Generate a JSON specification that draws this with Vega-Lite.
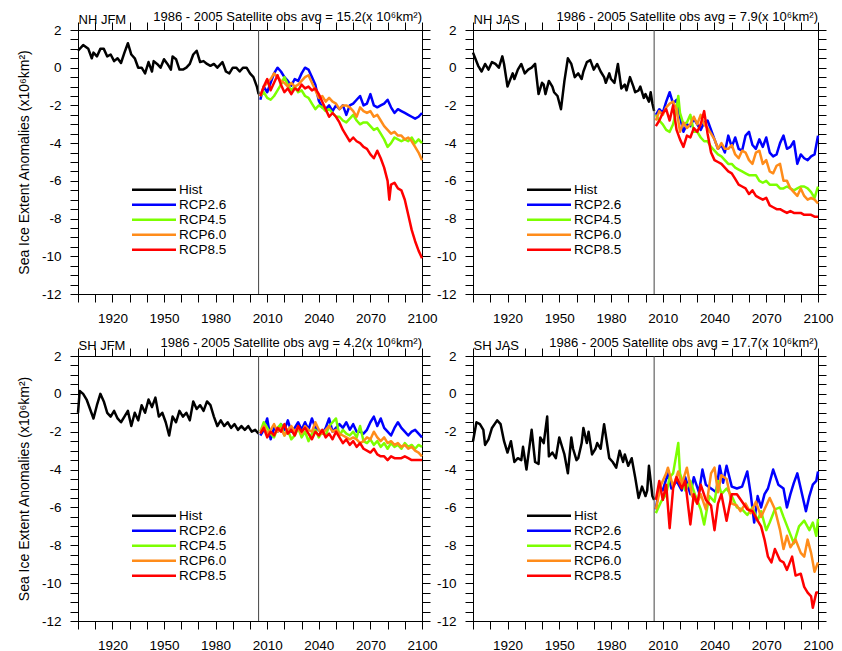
{
"$schema": "https://vega.github.io/schema/vega-lite/v6.json",
"background": "white",
"padding": {"left": 16, "top": 10, "right": 0, "bottom": 0},
"bounds": "flush",
"columns": 2,
"spacing": {"row": 62, "column": 51},
"resolve": {"scale": {"color": "independent"}, "legend": {"color": "independent"}},
"config": {
  "font": "Liberation Sans",
  "view": {"stroke": "black", "strokeWidth": 1, "fill": null},
  "axis": {"domain": true, "ticks": true, "domainColor": "black", "tickColor": "black", "domainWidth": 1, "tickWidth": 1, "domainOpacity": 1, "tickOpacity": 1, "labelColor": "black", "titleColor": "black", "labelFont": "Liberation Sans", "titleFont": "Liberation Sans", "labelFontSize": 13.5, "titleFontSize": 14, "titleFontWeight": "normal", "grid": false},
  "title": {"font": "Liberation Sans", "fontSize": 13, "fontWeight": "normal", "color": "black"},
  "legend": {"labelFont": "Liberation Sans", "labelColor": "black"},
  "line": {"strokeWidth": 2.5, "strokeJoin": "round"}
},
"datasets": {
"a": [
{"t":1900,"H":0.9},{"t":1903,"H":1.2},{"t":1906,"H":1.0},{"t":1908,"H":0.5},{"t":1909,"H":0.8},{"t":1911,"H":0.6},{"t":1913,"H":1.0},{"t":1915,"H":1.0},{"t":1917,"H":0.6},{"t":1919,"H":0.7},{"t":1921,"H":0.35},{"t":1923,"H":0.5},{"t":1925,"H":0.25},{"t":1927,"H":0.8},{"t":1929,"H":1.3},{"t":1931,"H":0.7},{"t":1933,"H":0.5},{"t":1935,"H":0.0},{"t":1937,"H":0.0},{"t":1939,"H":-0.3},{"t":1941,"H":0.3},{"t":1943,"H":-0.2},{"t":1944,"H":0.35},{"t":1946,"H":0.2},{"t":1948,"H":0.0},{"t":1950,"H":0.45},{"t":1952,"H":0.2},{"t":1954,"H":-0.1},{"t":1955,"H":0.6},{"t":1957,"H":0.45},{"t":1959,"H":-0.1},{"t":1961,"H":-0.1},{"t":1963,"H":0.0},{"t":1965,"H":0.2},{"t":1967,"H":0.7},{"t":1969,"H":0.9},{"t":1971,"H":0.3},{"t":1973,"H":0.35},{"t":1975,"H":0.2},{"t":1977,"H":0.1},{"t":1979,"H":0.2},{"t":1981,"H":0.0},{"t":1984,"H":0.3},{"t":1986,"H":-0.2},{"t":1988,"H":-0.3},{"t":1990,"H":0.0},{"t":1992,"H":0.0},{"t":1994,"H":-0.2},{"t":1996,"H":0.0},{"t":1998,"H":0.0},{"t":2000,"H":-0.3},{"t":2002,"H":-0.5},{"t":2004,"H":-1.0},{"t":2005,"H":-1.4},
{"t":2006,"B":-1.7,"G":-1.5,"O":-1.5,"R":-1.5},{"t":2008,"B":-1.0,"G":-1.3,"O":-1.0,"R":-1.0},{"t":2010,"B":-1.3,"G":-1.6,"O":-0.8,"R":-0.6},{"t":2012,"B":-0.8,"G":-1.7,"O":-0.6,"R":-1.2},{"t":2014,"B":-0.3,"G":-1.5,"O":-0.3,"R":-0.8},{"t":2016,"B":0.0,"G":-1.2,"O":-0.5,"R":-0.4},{"t":2018,"B":-0.2,"G":-0.9,"O":-0.7,"R":-0.9},{"t":2020,"B":-0.5,"G":-0.5,"O":-0.8,"R":-1.3},{"t":2022,"B":-0.7,"G":-0.9,"O":-1.0,"R":-1.1},{"t":2024,"B":-0.95,"G":-1.2,"O":-0.8,"R":-1.4},{"t":2026,"B":-0.6,"G":-1.0,"O":-1.0,"R":-1.1},{"t":2028,"B":-0.7,"G":-1.3,"O":-0.9,"R":-1.2},{"t":2030,"B":-0.3,"G":-1.2,"O":-0.7,"R":-0.9},{"t":2032,"B":0.0,"G":-1.5,"O":-0.5,"R":-1.1},{"t":2034,"B":-0.1,"G":-1.6,"O":-0.4,"R":-1.0},{"t":2036,"B":-0.5,"G":-1.9,"O":-0.8,"R":-1.2},{"t":2038,"B":-0.9,"G":-2.2,"O":-1.2,"R":-1.1},{"t":2040,"B":-1.75,"G":-2.0,"O":-1.6,"R":-1.4},{"t":2042,"B":-2.1,"G":-2.1,"O":-1.5,"R":-1.8},{"t":2044,"B":-2.2,"G":-2.3,"O":-1.8,"R":-2.2},{"t":2046,"B":-2.0,"G":-2.2,"O":-1.6,"R":-2.6},{"t":2048,"B":-2.3,"G":-2.4,"O":-1.8,"R":-2.4},{"t":2050,"B":-2.0,"G":-2.6,"O":-1.9,"R":-2.6},{"t":2052,"B":-2.2,"G":-2.6,"O":-2.2,"R":-2.9},{"t":2054,"B":-2.0,"G":-2.8,"O":-2.0,"R":-3.3},{"t":2056,"B":-2.5,"G":-2.9,"O":-2.0,"R":-3.6},{"t":2058,"B":-2.0,"G":-2.7,"O":-2.1,"R":-3.9},{"t":2060,"B":-1.9,"G":-2.5,"O":-2.3,"R":-3.7},{"t":2062,"B":-1.7,"G":-2.8,"O":-2.6,"R":-3.9},{"t":2064,"B":-1.5,"G":-3.0,"O":-2.1,"R":-4.0},{"t":2066,"B":-2.0,"G":-2.9,"O":-2.3,"R":-4.2},{"t":2068,"B":-1.9,"G":-2.9,"O":-2.4,"R":-4.3},{"t":2070,"B":-1.4,"G":-3.1,"O":-2.3,"R":-4.6},{"t":2072,"B":-2.0,"G":-3.3,"O":-2.6,"R":-4.8},{"t":2074,"B":-2.1,"G":-3.2,"O":-2.5,"R":-4.4},{"t":2076,"B":-2.0,"G":-3.5,"O":-2.8,"R":-4.8},{"t":2078,"B":-1.9,"G":-3.8,"O":-3.1,"R":-5.3},{"t":2080,"B":-1.7,"G":-4.2,"O":-3.3,"R":-6.0},{"t":2081,"R":-7.0},{"t":2082,"B":-2.1,"G":-4.0,"O":-3.5,"R":-6.2},{"t":2084,"B":-2.4,"G":-3.7,"O":-3.4,"R":-6.1},{"t":2086,"B":-2.2,"G":-3.8,"O":-3.6,"R":-6.4},{"t":2088,"B":-2.3,"G":-3.9,"O":-3.6,"R":-6.5},{"t":2090,"B":-2.4,"G":-3.8,"O":-3.8,"R":-7.0},{"t":2092,"B":-2.5,"G":-3.9,"O":-3.7,"R":-7.8},{"t":2094,"B":-2.6,"G":-3.7,"O":-3.9,"R":-8.6},{"t":2096,"B":-2.7,"G":-4.0,"O":-4.2,"R":-9.2},{"t":2098,"B":-2.6,"G":-3.8,"O":-4.5,"R":-9.7},{"t":2100,"B":-2.4,"G":-4.0,"O":-4.9,"R":-10.1}
],
"b": [
{"t":1900,"H":0.8},{"t":1903,"H":0.1},{"t":1905,"H":-0.2},{"t":1907,"H":0.2},{"t":1909,"H":-0.1},{"t":1911,"H":0.3},{"t":1913,"H":0.2},{"t":1915,"H":0.0},{"t":1917,"H":0.6},{"t":1918,"H":0.2},{"t":1920,"H":-1.0},{"t":1923,"H":-0.3},{"t":1924,"H":-0.6},{"t":1926,"H":-0.1},{"t":1928,"H":0.2},{"t":1930,"H":-0.3},{"t":1932,"H":-0.1},{"t":1934,"H":0.0},{"t":1936,"H":0.2},{"t":1938,"H":-1.4},{"t":1940,"H":-0.8},{"t":1941,"H":-0.9},{"t":1942,"H":-1.4},{"t":1944,"H":-0.7},{"t":1946,"H":-1.0},{"t":1947,"H":-1.3},{"t":1949,"H":-1.5},{"t":1951,"H":-2.2},{"t":1953,"H":-0.7},{"t":1955,"H":0.5},{"t":1957,"H":0.2},{"t":1959,"H":-0.5},{"t":1961,"H":-0.3},{"t":1963,"H":-0.6},{"t":1964,"H":-0.2},{"t":1966,"H":0.3},{"t":1968,"H":0.4},{"t":1970,"H":-0.1},{"t":1972,"H":0.2},{"t":1974,"H":-0.2},{"t":1976,"H":-0.5},{"t":1977,"H":-0.8},{"t":1979,"H":-0.3},{"t":1980,"H":-0.6},{"t":1982,"H":-0.8},{"t":1984,"H":0.2},{"t":1986,"H":-1.1},{"t":1988,"H":-0.9},{"t":1989,"H":-1.2},{"t":1991,"H":-0.5},{"t":1993,"H":-1.0},{"t":1994,"H":-1.3},{"t":1996,"H":-1.2},{"t":1997,"H":-1.0},{"t":1999,"H":-1.6},{"t":2000,"H":-1.4},{"t":2002,"H":-1.8},{"t":2003,"H":-1.3},{"t":2004,"H":-1.9},{"t":2005,"H":-2.3},
{"t":2006,"B":-2.5,"G":-2.5,"O":-2.8,"R":-3.1},{"t":2008,"B":-2.2,"G":-2.8,"O":-2.3,"R":-2.8},{"t":2010,"B":-2.4,"G":-3.0,"O":-2.5,"R":-2.4},{"t":2012,"B":-1.8,"G":-3.3,"O":-2.1,"R":-2.2},{"t":2014,"B":-1.3,"G":-3.4,"O":-1.9,"R":-2.8},{"t":2016,"B":-1.9,"G":-3.0,"O":-1.8,"R":-2.0},{"t":2018,"B":-1.7,"G":-2.2,"O":-2.2,"R":-3.3},{"t":2019,"G":-1.5},{"t":2020,"B":-2.6,"G":-2.4,"O":-3.4,"R":-3.8},{"t":2022,"B":-3.4,"G":-3.0,"O":-2.9,"R":-4.2},{"t":2024,"B":-3.0,"G":-2.9,"O":-3.2,"R":-3.6},{"t":2026,"B":-3.1,"G":-2.5,"O":-3.0,"R":-3.7},{"t":2028,"B":-2.7,"G":-3.4,"O":-2.6,"R":-3.2},{"t":2030,"B":-3.0,"G":-3.4,"O":-3.0,"R":-3.4},{"t":2032,"B":-3.3,"G":-3.7,"O":-2.5,"R":-3.0},{"t":2034,"B":-2.9,"G":-3.9,"O":-3.0,"R":-2.3},{"t":2036,"B":-2.8,"G":-3.9,"O":-3.2,"R":-3.5},{"t":2038,"B":-3.3,"G":-4.2,"O":-3.5,"R":-4.5},{"t":2040,"B":-3.8,"G":-4.4,"O":-3.8,"R":-4.9},{"t":2042,"B":-4.3,"G":-4.6,"O":-4.3,"R":-5.0},{"t":2044,"B":-4.1,"G":-4.7,"O":-4.0,"R":-5.1},{"t":2046,"B":-4.5,"G":-4.9,"O":-4.3,"R":-5.3},{"t":2048,"B":-3.6,"G":-5.1,"O":-4.3,"R":-5.5},{"t":2050,"B":-4.2,"G":-5.1,"O":-4.1,"R":-5.6},{"t":2052,"B":-3.7,"G":-5.3,"O":-4.6,"R":-5.9},{"t":2054,"B":-4.3,"G":-5.4,"O":-4.8,"R":-6.2},{"t":2056,"B":-4.4,"G":-5.5,"O":-4.4,"R":-6.3},{"t":2058,"B":-3.6,"G":-5.6,"O":-4.5,"R":-6.4},{"t":2060,"B":-3.4,"G":-5.7,"O":-4.9,"R":-6.7},{"t":2062,"B":-4.1,"G":-5.7,"O":-5.1,"R":-6.5},{"t":2064,"B":-4.3,"G":-5.7,"O":-4.5,"R":-6.8},{"t":2066,"B":-3.8,"G":-6.0,"O":-4.4,"R":-6.9},{"t":2068,"B":-4.2,"G":-6.1,"O":-5.1,"R":-7.0},{"t":2070,"B":-3.7,"G":-6.0,"O":-4.9,"R":-6.9},{"t":2072,"B":-4.5,"G":-6.2,"O":-5.5,"R":-7.3},{"t":2074,"B":-4.7,"G":-6.2,"O":-5.6,"R":-7.4},{"t":2076,"B":-4.6,"G":-6.2,"O":-5.2,"R":-7.5},{"t":2078,"B":-4.0,"G":-6.4,"O":-5.1,"R":-7.5},{"t":2080,"B":-3.6,"G":-6.4,"O":-6.0,"R":-7.6},{"t":2082,"B":-4.3,"G":-6.3,"O":-6.0,"R":-7.7},{"t":2084,"B":-4.2,"G":-6.4,"O":-6.4,"R":-7.6},{"t":2086,"B":-3.9,"G":-6.5,"O":-6.6,"R":-7.7},{"t":2088,"B":-5.1,"G":-6.4,"O":-6.8,"R":-7.7},{"t":2090,"B":-4.6,"G":-6.3,"O":-6.4,"R":-7.7},{"t":2092,"B":-4.8,"G":-6.3,"O":-6.8,"R":-7.8},{"t":2094,"B":-4.9,"G":-6.4,"O":-7.0,"R":-7.8},{"t":2096,"B":-4.7,"G":-6.6,"O":-6.9,"R":-7.8},{"t":2098,"B":-4.6,"G":-6.9,"O":-7.0,"R":-7.9},{"t":2100,"B":-3.6,"G":-6.3,"O":-7.2,"R":-7.9}
],
"c": [
{"t":1900,"H":-1.0},{"t":1901,"H":0.15},{"t":1903,"H":0.0},{"t":1905,"H":-0.3},{"t":1907,"H":-0.8},{"t":1909,"H":-1.3},{"t":1911,"H":-0.6},{"t":1913,"H":0.0},{"t":1915,"H":-0.4},{"t":1917,"H":-1.0},{"t":1919,"H":-1.2},{"t":1921,"H":-0.9},{"t":1923,"H":-1.3},{"t":1925,"H":-1.5},{"t":1927,"H":-1.2},{"t":1929,"H":-0.9},{"t":1931,"H":-1.7},{"t":1933,"H":-1.0},{"t":1935,"H":-1.4},{"t":1937,"H":-0.6},{"t":1939,"H":-1.0},{"t":1941,"H":-0.3},{"t":1943,"H":-0.7},{"t":1945,"H":-0.2},{"t":1947,"H":-1.2},{"t":1949,"H":-1.0},{"t":1951,"H":-1.5},{"t":1953,"H":-2.2},{"t":1955,"H":-1.2},{"t":1957,"H":-1.5},{"t":1959,"H":-0.9},{"t":1961,"H":-1.2},{"t":1963,"H":-1.0},{"t":1965,"H":-1.4},{"t":1967,"H":-0.4},{"t":1969,"H":-0.8},{"t":1971,"H":-0.6},{"t":1973,"H":-0.9},{"t":1975,"H":-0.4},{"t":1977,"H":-0.6},{"t":1979,"H":-1.2},{"t":1981,"H":-1.7},{"t":1983,"H":-1.4},{"t":1985,"H":-1.7},{"t":1987,"H":-1.5},{"t":1989,"H":-1.8},{"t":1991,"H":-1.6},{"t":1993,"H":-1.9},{"t":1995,"H":-1.7},{"t":1997,"H":-1.9},{"t":1999,"H":-1.7},{"t":2001,"H":-2.0},{"t":2003,"H":-1.9},{"t":2005,"H":-2.1},
{"t":2006,"B":-2.2,"G":-2.0,"O":-2.0,"R":-2.1},{"t":2008,"B":-1.9,"G":-1.5,"O":-1.7,"R":-1.8},{"t":2010,"B":-1.3,"G":-1.8,"O":-2.1,"R":-2.3},{"t":2012,"B":-2.4,"G":-2.1,"O":-1.9,"R":-2.0},{"t":2014,"B":-1.8,"G":-2.3,"O":-1.6,"R":-2.2},{"t":2016,"B":-2.0,"G":-1.8,"O":-2.0,"R":-1.8},{"t":2018,"B":-1.6,"G":-1.6,"O":-1.8,"R":-2.0},{"t":2020,"B":-1.9,"G":-2.2,"O":-2.2,"R":-1.6},{"t":2022,"B":-1.4,"G":-1.9,"O":-1.9,"R":-2.1},{"t":2024,"B":-2.0,"G":-2.4,"O":-1.7,"R":-1.9},{"t":2026,"B":-1.8,"G":-2.2,"O":-2.0,"R":-2.2},{"t":2028,"B":-1.5,"G":-1.8,"O":-1.8,"R":-1.7},{"t":2030,"B":-1.9,"G":-2.3,"O":-2.1,"R":-2.0},{"t":2032,"B":-1.5,"G":-2.0,"O":-1.7,"R":-1.8},{"t":2034,"B":-1.9,"G":-2.5,"O":-1.9,"R":-2.1},{"t":2036,"B":-1.3,"G":-2.1,"O":-2.0,"R":-2.4},{"t":2038,"B":-1.8,"G":-1.9,"O":-1.5,"R":-2.0},{"t":2040,"B":-1.9,"G":-2.3,"O":-1.9,"R":-2.2},{"t":2042,"B":-2.1,"G":-2.0,"O":-2.1,"R":-1.9},{"t":2044,"B":-1.8,"G":-2.2,"O":-1.9,"R":-2.3},{"t":2046,"B":-1.3,"G":-1.7,"O":-1.7,"R":-2.1},{"t":2048,"B":-2.0,"G":-1.5,"O":-2.0,"R":-2.4},{"t":2050,"B":-1.8,"G":-1.3,"O":-1.9,"R":-2.0},{"t":2052,"B":-1.6,"G":-2.2,"O":-2.1,"R":-2.3},{"t":2054,"B":-1.8,"G":-1.9,"O":-2.2,"R":-2.6},{"t":2056,"B":-1.5,"G":-2.1,"O":-2.3,"R":-2.4},{"t":2058,"B":-1.9,"G":-2.2,"O":-2.4,"R":-2.7},{"t":2060,"B":-1.6,"G":-2.0,"O":-2.3,"R":-2.5},{"t":2062,"B":-2.0,"G":-2.3,"O":-2.4,"R":-2.8},{"t":2064,"B":-2.0,"G":-1.7,"O":-2.6,"R":-2.6},{"t":2066,"B":-2.1,"G":-2.5,"O":-2.5,"R":-2.9},{"t":2068,"B":-1.9,"G":-2.6,"O":-2.3,"R":-3.0},{"t":2070,"B":-1.5,"G":-2.4,"O":-2.4,"R":-3.1},{"t":2072,"B":-1.2,"G":-2.7,"O":-2.0,"R":-2.9},{"t":2074,"B":-1.7,"G":-2.5,"O":-2.3,"R":-3.2},{"t":2076,"B":-1.3,"G":-2.8,"O":-2.5,"R":-3.3},{"t":2078,"B":-1.8,"G":-2.6,"O":-2.3,"R":-3.3},{"t":2080,"B":-2.0,"G":-2.9,"O":-2.6,"R":-3.5},{"t":2082,"B":-2.2,"G":-2.6,"O":-2.5,"R":-3.3},{"t":2084,"B":-1.8,"G":-2.8,"O":-2.7,"R":-3.4},{"t":2086,"B":-1.5,"G":-2.7,"O":-2.6,"R":-3.4},{"t":2088,"B":-1.8,"G":-2.9,"O":-2.8,"R":-3.4},{"t":2090,"B":-2.0,"G":-2.6,"O":-2.7,"R":-3.3},{"t":2092,"B":-2.2,"G":-2.8,"O":-2.9,"R":-3.4},{"t":2094,"B":-2.0,"G":-2.7,"O":-2.8,"R":-3.5},{"t":2096,"B":-1.9,"G":-2.9,"O":-3.0,"R":-3.5},{"t":2098,"B":-2.1,"G":-2.7,"O":-3.1,"R":-3.5},{"t":2100,"B":-2.3,"G":-2.8,"O":-3.3,"R":-3.5}
],
"d": [
{"t":1900,"H":-2.5},{"t":1902,"H":-1.5},{"t":1904,"H":-1.6},{"t":1906,"H":-1.9},{"t":1907,"H":-2.7},{"t":1909,"H":-2.4},{"t":1911,"H":-1.8},{"t":1914,"H":-1.4},{"t":1916,"H":-1.6},{"t":1918,"H":-2.5},{"t":1920,"H":-3.1},{"t":1922,"H":-2.5},{"t":1924,"H":-3.6},{"t":1926,"H":-3.4},{"t":1928,"H":-3.5},{"t":1929,"H":-2.8},{"t":1931,"H":-4.0},{"t":1934,"H":-1.9},{"t":1936,"H":-3.6},{"t":1938,"H":-3.7},{"t":1939,"H":-2.3},{"t":1941,"H":-2.6},{"t":1943,"H":-1.2},{"t":1944,"H":-3.3},{"t":1946,"H":-3.1},{"t":1948,"H":-3.4},{"t":1950,"H":-2.3},{"t":1952,"H":-2.9},{"t":1953,"H":-3.2},{"t":1955,"H":-4.2},{"t":1957,"H":-2.3},{"t":1958,"H":-2.9},{"t":1960,"H":-3.5},{"t":1961,"H":-3.4},{"t":1963,"H":-2.6},{"t":1964,"H":-1.8},{"t":1966,"H":-2.6},{"t":1967,"H":-2.0},{"t":1969,"H":-3.2},{"t":1971,"H":-2.9},{"t":1972,"H":-2.6},{"t":1974,"H":-2.9},{"t":1976,"H":-1.6},{"t":1978,"H":-2.8},{"t":1979,"H":-3.4},{"t":1981,"H":-3.6},{"t":1983,"H":-3.9},{"t":1985,"H":-3.0},{"t":1987,"H":-3.6},{"t":1988,"H":-3.2},{"t":1990,"H":-3.8},{"t":1992,"H":-3.4},{"t":1994,"H":-4.4},{"t":1996,"H":-5.5},{"t":1998,"H":-4.9},{"t":2000,"H":-5.4},{"t":2001,"H":-5.1},{"t":2002,"H":-3.8},{"t":2004,"H":-5.4},{"t":2005,"H":-5.6},
{"t":2006,"B":-6.1,"G":-6.3,"O":-6.1,"R":-5.6},{"t":2008,"B":-4.9,"R":-4.6},{"t":2009,"G":-5.7,"O":-4.8},{"t":2010,"B":-5.1,"R":-5.6},{"t":2012,"G":-5.3,"O":-4.2,"R":-4.8},{"t":2013,"B":-4.2,"O":-3.9},{"t":2014,"G":-4.4,"R":-7.1},{"t":2015,"B":-5.0},{"t":2016,"G":-4.2,"O":-4.9,"R":-5.0},{"t":2018,"B":-4.6,"R":-4.4},{"t":2019,"G":-2.6,"O":-4.1},{"t":2020,"G":-4.2},{"t":2021,"B":-5.1,"O":-4.8,"R":-5.0},{"t":2023,"B":-4.4,"G":-5.1,"R":-4.6},{"t":2024,"O":-3.9},{"t":2026,"B":-5.3,"G":-4.6,"R":-6.9},{"t":2027,"O":-5.4},{"t":2028,"B":-4.4,"R":-5.3},{"t":2029,"G":-5.4},{"t":2030,"O":-5.8,"R":-5.8},{"t":2031,"B":-5.2},{"t":2032,"G":-6.1,"O":-5.3,"R":-4.8},{"t":2033,"B":-4.0},{"t":2034,"G":-6.9},{"t":2035,"B":-4.8,"O":-6.1,"R":-5.6},{"t":2037,"G":-5.4},{"t":2038,"B":-5.0,"O":-4.2,"R":-5.9},{"t":2040,"G":-5.7,"O":-3.9,"R":-7.2},{"t":2041,"B":-5.2},{"t":2042,"G":-4.6,"O":-5.2,"R":-5.8},{"t":2043,"B":-3.8},{"t":2044,"G":-5.3,"O":-4.3,"R":-5.3},{"t":2045,"B":-4.7},{"t":2047,"B":-3.8,"G":-5.0,"O":-4.5,"R":-6.7},{"t":2050,"B":-4.9,"G":-5.4,"O":-5.8,"R":-5.3},{"t":2053,"B":-5.0,"G":-6.0,"O":-5.9,"R":-5.3},{"t":2055,"O":-6.2},{"t":2056,"B":-4.9,"G":-6.1,"R":-5.7},{"t":2058,"O":-5.8},{"t":2059,"B":-4.1,"G":-6.4,"R":-6.1},{"t":2061,"B":-5.3,"O":-6.3},{"t":2062,"G":-6.0,"R":-6.2},{"t":2063,"B":-6.8},{"t":2064,"O":-5.7},{"t":2065,"B":-5.4,"G":-6.7,"R":-6.7},{"t":2067,"B":-6.0,"G":-6.2,"O":-6.5,"R":-7.0},{"t":2069,"B":-5.3,"O":-6.1,"R":-7.7},{"t":2070,"G":-7.2},{"t":2071,"B":-5.0,"R":-8.6},{"t":2072,"G":-6.8,"O":-5.5},{"t":2073,"R":-8.9},{"t":2074,"B":-4.0},{"t":2075,"G":-6.1,"O":-6.1,"R":-8.2},{"t":2077,"B":-4.8},{"t":2078,"G":-6.0,"O":-7.2,"R":-8.8},{"t":2080,"B":-5.0,"G":-6.5,"O":-8.2,"R":-8.9},{"t":2082,"B":-6.0,"O":-7.5,"R":-9.3},{"t":2083,"G":-7.2},{"t":2084,"B":-5.3,"O":-8.1},{"t":2085,"R":-8.6},{"t":2086,"B":-4.7,"G":-7.9},{"t":2087,"O":-7.7,"R":-9.6},{"t":2088,"B":-4.2},{"t":2089,"G":-7.0},{"t":2090,"O":-8.4,"R":-9.5},{"t":2091,"B":-5.4},{"t":2092,"G":-6.7,"O":-8.6,"R":-10.2},{"t":2093,"B":-6.2},{"t":2094,"O":-7.7,"R":-10.5},{"t":2095,"B":-5.4,"G":-7.2},{"t":2096,"O":-8.4,"R":-10.7},{"t":2097,"B":-4.8,"G":-6.8,"R":-11.3},{"t":2098,"O":-9.4},{"t":2099,"B":-4.6,"G":-7.5,"R":-10.5},{"t":2100,"B":-4.1,"G":-6.6,"O":-8.9,"R":-10.5}
]
},
"concat": [
{
 "width": 344, "height": 264,
 "title": {"text": "1986 - 2005 Satellite obs avg = 15.2(x 10⁶km²)", "anchor": "end", "frame": "group", "offset": -20, "baseline": "alphabetic"},
 "layer": [
  {"data": {"name": "a"},
   "transform": [{"fold": ["H","B","G","O","R"], "as": ["k","v"]}, {"filter": "isValid(datum.v)"}],
   "mark": {"type": "line"},
   "encoding": {
    "x": {"field": "t", "type": "quantitative", "scale": {"domain": [1900,2100], "nice": false, "zero": false},
      "axis": {"orient": "bottom", "values": [1900,1910,1920,1930,1940,1950,1960,1970,1980,1990,2000,2010,2020,2030,2040,2050,2060,2070,2080,2090,2100], "labelExpr": "(datum.value-1920)%30==0 ? ''+datum.value : ''", "tickSize": 8, "labelPadding": 9, "labelFlush": false, "labelOverlap": false, "title": null, "domain": true, "ticks": true, "domainColor": "black", "tickColor": "black", "domainWidth": 1, "tickWidth": 1, "domainOpacity": 1, "tickOpacity": 1,
        "encode": {"ticks": {"y2": {"condition": {"test": "(datum.value-1920)%30==0", "value": 8}, "value": 4}}}}},
    "y": {"field": "v", "type": "quantitative", "scale": {"domain": [-12,2], "nice": false, "zero": false},
      "axis": {"orient": "left", "values": [-12,-11.5,-11,-10.5,-10,-9.5,-9,-8.5,-8,-7.5,-7,-6.5,-6,-5.5,-5,-4.5,-4,-3.5,-3,-2.5,-2,-1.5,-1,-0.5,0,0.5,1,1.5,2], "labelExpr": "datum.value%2==0 ? ''+datum.value : ''", "tickSize": 8, "labelPadding": 9, "labelOverlap": false, "title": "Sea Ice Extent Anomalies (x10⁶km²)", "titlePadding": 10, "domain": true, "ticks": true, "domainColor": "black", "tickColor": "black", "domainWidth": 1, "tickWidth": 1, "domainOpacity": 1, "tickOpacity": 1,
        "encode": {"ticks": {"x2": {"condition": {"test": "datum.value%2==0", "value": -8}, "value": -4}}}}},
    "color": {"field": "k", "type": "nominal", "scale": {"domain": ["H","B","G","O","R"], "range": ["#000000","#0000ff","#7cff00","#ff8c1a","#ff0000"]},
      "legend": {"orient": "none", "legendX": 54, "legendY": 153, "title": null, "padding": 0, "labelFontSize": 13.5, "symbolType": "M-4.4,0H4.4", "symbolSize": 100, "symbolStrokeWidth": 3, "symbolOffset": 15.25, "labelOffset": 18.25, "rowPadding": 0,
        "labelExpr": "datum.label=='H' ? 'Hist' : datum.label=='B' ? 'RCP2.6' : datum.label=='G' ? 'RCP4.5' : datum.label=='O' ? 'RCP6.0' : 'RCP8.5'"}}
   }},
  {"data": {"values": [{}]},
   "mark": {"type": "rule", "color": "#444444", "strokeWidth": 1},
   "encoding": {
    "x": {"datum": 2005, "type": "quantitative", "scale": {"domain": [1900,2100], "nice": false, "zero": false},
      "axis": {"orient": "top", "values": [1900,1910,1920,1930,1940,1950,1960,1970,1980,1990,2000,2010,2020,2030,2040,2050,2060,2070,2080,2090,2100], "labels": false, "tickSize": 8, "title": "NH JFM", "titleAnchor": "start", "titleFontSize": 13, "titlePadding": -2, "titleBaseline": "alphabetic", "domain": true, "ticks": true, "domainColor": "black", "tickColor": "black", "domainWidth": 1, "tickWidth": 1, "domainOpacity": 1, "tickOpacity": 1,
        "encode": {"ticks": {"y2": {"condition": {"test": "(datum.value-1920)%30==0", "value": -8}, "value": -4}}}}},
    "y": {"datum": 2, "type": "quantitative", "scale": {"domain": [-12,2], "nice": false, "zero": false},
      "axis": {"orient": "right", "values": [-12,-11.5,-11,-10.5,-10,-9.5,-9,-8.5,-8,-7.5,-7,-6.5,-6,-5.5,-5,-4.5,-4,-3.5,-3,-2.5,-2,-1.5,-1,-0.5,0,0.5,1,1.5,2], "labels": false, "tickSize": 8, "title": null, "domain": true, "ticks": true, "domainColor": "black", "tickColor": "black", "domainWidth": 1, "tickWidth": 1, "domainOpacity": 1, "tickOpacity": 1,
        "encode": {"ticks": {"x2": {"condition": {"test": "datum.value%2==0", "value": 8}, "value": 4}}}}},
    "y2": {"datum": -12}
   }}
 ],
 "resolve": {"axis": {"x": "independent", "y": "independent"}}
},
{
 "width": 345, "height": 264,
 "title": {"text": "1986 - 2005 Satellite obs avg = 7.9(x 10⁶km²)", "anchor": "end", "frame": "group", "offset": -20, "baseline": "alphabetic"},
 "layer": [
  {"data": {"name": "b"},
   "transform": [{"fold": ["H","B","G","O","R"], "as": ["k","v"]}, {"filter": "isValid(datum.v)"}],
   "mark": {"type": "line"},
   "encoding": {
    "x": {"field": "t", "type": "quantitative", "scale": {"domain": [1900,2100], "nice": false, "zero": false},
      "axis": {"orient": "bottom", "values": [1900,1910,1920,1930,1940,1950,1960,1970,1980,1990,2000,2010,2020,2030,2040,2050,2060,2070,2080,2090,2100], "labelExpr": "(datum.value-1920)%30==0 ? ''+datum.value : ''", "tickSize": 8, "labelPadding": 9, "labelFlush": false, "labelOverlap": false, "title": null, "domain": true, "ticks": true, "domainColor": "black", "tickColor": "black", "domainWidth": 1, "tickWidth": 1, "domainOpacity": 1, "tickOpacity": 1,
        "encode": {"ticks": {"y2": {"condition": {"test": "(datum.value-1920)%30==0", "value": 8}, "value": 4}}}}},
    "y": {"field": "v", "type": "quantitative", "scale": {"domain": [-12,2], "nice": false, "zero": false},
      "axis": {"orient": "left", "values": [-12,-11.5,-11,-10.5,-10,-9.5,-9,-8.5,-8,-7.5,-7,-6.5,-6,-5.5,-5,-4.5,-4,-3.5,-3,-2.5,-2,-1.5,-1,-0.5,0,0.5,1,1.5,2], "labelExpr": "datum.value%2==0 ? ''+datum.value : ''", "tickSize": 8, "labelPadding": 9, "labelOverlap": false, "title": null, "domain": true, "ticks": true, "domainColor": "black", "tickColor": "black", "domainWidth": 1, "tickWidth": 1, "domainOpacity": 1, "tickOpacity": 1,
        "encode": {"ticks": {"x2": {"condition": {"test": "datum.value%2==0", "value": -8}, "value": -4}}}}},
    "color": {"field": "k", "type": "nominal", "scale": {"domain": ["H","B","G","O","R"], "range": ["#000000","#0000ff","#7cff00","#ff8c1a","#ff0000"]},
      "legend": {"orient": "none", "legendX": 54, "legendY": 153, "title": null, "padding": 0, "labelFontSize": 13.5, "symbolType": "M-4.4,0H4.4", "symbolSize": 100, "symbolStrokeWidth": 3, "symbolOffset": 15.25, "labelOffset": 18.25, "rowPadding": 0,
        "labelExpr": "datum.label=='H' ? 'Hist' : datum.label=='B' ? 'RCP2.6' : datum.label=='G' ? 'RCP4.5' : datum.label=='O' ? 'RCP6.0' : 'RCP8.5'"}}
   }},
  {"data": {"values": [{}]},
   "mark": {"type": "rule", "color": "#444444", "strokeWidth": 1},
   "encoding": {
    "x": {"datum": 2005, "type": "quantitative", "scale": {"domain": [1900,2100], "nice": false, "zero": false},
      "axis": {"orient": "top", "values": [1900,1910,1920,1930,1940,1950,1960,1970,1980,1990,2000,2010,2020,2030,2040,2050,2060,2070,2080,2090,2100], "labels": false, "tickSize": 8, "title": "NH JAS", "titleAnchor": "start", "titleFontSize": 13, "titlePadding": -2, "titleBaseline": "alphabetic", "domain": true, "ticks": true, "domainColor": "black", "tickColor": "black", "domainWidth": 1, "tickWidth": 1, "domainOpacity": 1, "tickOpacity": 1,
        "encode": {"ticks": {"y2": {"condition": {"test": "(datum.value-1920)%30==0", "value": -8}, "value": -4}}}}},
    "y": {"datum": 2, "type": "quantitative", "scale": {"domain": [-12,2], "nice": false, "zero": false},
      "axis": {"orient": "right", "values": [-12,-11.5,-11,-10.5,-10,-9.5,-9,-8.5,-8,-7.5,-7,-6.5,-6,-5.5,-5,-4.5,-4,-3.5,-3,-2.5,-2,-1.5,-1,-0.5,0,0.5,1,1.5,2], "labels": false, "tickSize": 8, "title": null, "domain": true, "ticks": true, "domainColor": "black", "tickColor": "black", "domainWidth": 1, "tickWidth": 1, "domainOpacity": 1, "tickOpacity": 1,
        "encode": {"ticks": {"x2": {"condition": {"test": "datum.value%2==0", "value": 8}, "value": 4}}}}},
    "y2": {"datum": -12}
   }}
 ],
 "resolve": {"axis": {"x": "independent", "y": "independent"}}
},
{
 "width": 344, "height": 265,
 "title": {"text": "1986 - 2005 Satellite obs avg = 4.2(x 10⁶km²)", "anchor": "end", "frame": "group", "offset": -20, "baseline": "alphabetic"},
 "layer": [
  {"data": {"name": "c"},
   "transform": [{"fold": ["H","B","G","O","R"], "as": ["k","v"]}, {"filter": "isValid(datum.v)"}],
   "mark": {"type": "line"},
   "encoding": {
    "x": {"field": "t", "type": "quantitative", "scale": {"domain": [1900,2100], "nice": false, "zero": false},
      "axis": {"orient": "bottom", "values": [1900,1910,1920,1930,1940,1950,1960,1970,1980,1990,2000,2010,2020,2030,2040,2050,2060,2070,2080,2090,2100], "labelExpr": "(datum.value-1920)%30==0 ? ''+datum.value : ''", "tickSize": 8, "labelPadding": 9, "labelFlush": false, "labelOverlap": false, "title": null, "domain": true, "ticks": true, "domainColor": "black", "tickColor": "black", "domainWidth": 1, "tickWidth": 1, "domainOpacity": 1, "tickOpacity": 1,
        "encode": {"ticks": {"y2": {"condition": {"test": "(datum.value-1920)%30==0", "value": 8}, "value": 4}}}}},
    "y": {"field": "v", "type": "quantitative", "scale": {"domain": [-12,2], "nice": false, "zero": false},
      "axis": {"orient": "left", "values": [-12,-11.5,-11,-10.5,-10,-9.5,-9,-8.5,-8,-7.5,-7,-6.5,-6,-5.5,-5,-4.5,-4,-3.5,-3,-2.5,-2,-1.5,-1,-0.5,0,0.5,1,1.5,2], "labelExpr": "datum.value%2==0 ? ''+datum.value : ''", "tickSize": 8, "labelPadding": 9, "labelOverlap": false, "title": "Sea Ice Extent Anomalies (x10⁶km²)", "titlePadding": 10, "domain": true, "ticks": true, "domainColor": "black", "tickColor": "black", "domainWidth": 1, "tickWidth": 1, "domainOpacity": 1, "tickOpacity": 1,
        "encode": {"ticks": {"x2": {"condition": {"test": "datum.value%2==0", "value": -8}, "value": -4}}}}},
    "color": {"field": "k", "type": "nominal", "scale": {"domain": ["H","B","G","O","R"], "range": ["#000000","#0000ff","#7cff00","#ff8c1a","#ff0000"]},
      "legend": {"orient": "none", "legendX": 54, "legendY": 153, "title": null, "padding": 0, "labelFontSize": 13.5, "symbolType": "M-4.4,0H4.4", "symbolSize": 100, "symbolStrokeWidth": 3, "symbolOffset": 15.25, "labelOffset": 18.25, "rowPadding": 0,
        "labelExpr": "datum.label=='H' ? 'Hist' : datum.label=='B' ? 'RCP2.6' : datum.label=='G' ? 'RCP4.5' : datum.label=='O' ? 'RCP6.0' : 'RCP8.5'"}}
   }},
  {"data": {"values": [{}]},
   "mark": {"type": "rule", "color": "#444444", "strokeWidth": 1},
   "encoding": {
    "x": {"datum": 2005, "type": "quantitative", "scale": {"domain": [1900,2100], "nice": false, "zero": false},
      "axis": {"orient": "top", "values": [1900,1910,1920,1930,1940,1950,1960,1970,1980,1990,2000,2010,2020,2030,2040,2050,2060,2070,2080,2090,2100], "labels": false, "tickSize": 8, "title": "SH JFM", "titleAnchor": "start", "titleFontSize": 13, "titlePadding": -2, "titleBaseline": "alphabetic", "domain": true, "ticks": true, "domainColor": "black", "tickColor": "black", "domainWidth": 1, "tickWidth": 1, "domainOpacity": 1, "tickOpacity": 1,
        "encode": {"ticks": {"y2": {"condition": {"test": "(datum.value-1920)%30==0", "value": -8}, "value": -4}}}}},
    "y": {"datum": 2, "type": "quantitative", "scale": {"domain": [-12,2], "nice": false, "zero": false},
      "axis": {"orient": "right", "values": [-12,-11.5,-11,-10.5,-10,-9.5,-9,-8.5,-8,-7.5,-7,-6.5,-6,-5.5,-5,-4.5,-4,-3.5,-3,-2.5,-2,-1.5,-1,-0.5,0,0.5,1,1.5,2], "labels": false, "tickSize": 8, "title": null, "domain": true, "ticks": true, "domainColor": "black", "tickColor": "black", "domainWidth": 1, "tickWidth": 1, "domainOpacity": 1, "tickOpacity": 1,
        "encode": {"ticks": {"x2": {"condition": {"test": "datum.value%2==0", "value": 8}, "value": 4}}}}},
    "y2": {"datum": -12}
   }}
 ],
 "resolve": {"axis": {"x": "independent", "y": "independent"}}
},
{
 "width": 345, "height": 265,
 "title": {"text": "1986 - 2005 Satellite obs avg = 17.7(x 10⁶km²)", "anchor": "end", "frame": "group", "offset": -20, "baseline": "alphabetic"},
 "layer": [
  {"data": {"name": "d"},
   "transform": [{"fold": ["H","B","G","O","R"], "as": ["k","v"]}, {"filter": "isValid(datum.v)"}],
   "mark": {"type": "line"},
   "encoding": {
    "x": {"field": "t", "type": "quantitative", "scale": {"domain": [1900,2100], "nice": false, "zero": false},
      "axis": {"orient": "bottom", "values": [1900,1910,1920,1930,1940,1950,1960,1970,1980,1990,2000,2010,2020,2030,2040,2050,2060,2070,2080,2090,2100], "labelExpr": "(datum.value-1920)%30==0 ? ''+datum.value : ''", "tickSize": 8, "labelPadding": 9, "labelFlush": false, "labelOverlap": false, "title": null, "domain": true, "ticks": true, "domainColor": "black", "tickColor": "black", "domainWidth": 1, "tickWidth": 1, "domainOpacity": 1, "tickOpacity": 1,
        "encode": {"ticks": {"y2": {"condition": {"test": "(datum.value-1920)%30==0", "value": 8}, "value": 4}}}}},
    "y": {"field": "v", "type": "quantitative", "scale": {"domain": [-12,2], "nice": false, "zero": false},
      "axis": {"orient": "left", "values": [-12,-11.5,-11,-10.5,-10,-9.5,-9,-8.5,-8,-7.5,-7,-6.5,-6,-5.5,-5,-4.5,-4,-3.5,-3,-2.5,-2,-1.5,-1,-0.5,0,0.5,1,1.5,2], "labelExpr": "datum.value%2==0 ? ''+datum.value : ''", "tickSize": 8, "labelPadding": 9, "labelOverlap": false, "title": null, "domain": true, "ticks": true, "domainColor": "black", "tickColor": "black", "domainWidth": 1, "tickWidth": 1, "domainOpacity": 1, "tickOpacity": 1,
        "encode": {"ticks": {"x2": {"condition": {"test": "datum.value%2==0", "value": -8}, "value": -4}}}}},
    "color": {"field": "k", "type": "nominal", "scale": {"domain": ["H","B","G","O","R"], "range": ["#000000","#0000ff","#7cff00","#ff8c1a","#ff0000"]},
      "legend": {"orient": "none", "legendX": 54, "legendY": 153, "title": null, "padding": 0, "labelFontSize": 13.5, "symbolType": "M-4.4,0H4.4", "symbolSize": 100, "symbolStrokeWidth": 3, "symbolOffset": 15.25, "labelOffset": 18.25, "rowPadding": 0,
        "labelExpr": "datum.label=='H' ? 'Hist' : datum.label=='B' ? 'RCP2.6' : datum.label=='G' ? 'RCP4.5' : datum.label=='O' ? 'RCP6.0' : 'RCP8.5'"}}
   }},
  {"data": {"values": [{}]},
   "mark": {"type": "rule", "color": "#444444", "strokeWidth": 1},
   "encoding": {
    "x": {"datum": 2005, "type": "quantitative", "scale": {"domain": [1900,2100], "nice": false, "zero": false},
      "axis": {"orient": "top", "values": [1900,1910,1920,1930,1940,1950,1960,1970,1980,1990,2000,2010,2020,2030,2040,2050,2060,2070,2080,2090,2100], "labels": false, "tickSize": 8, "title": "SH JAS", "titleAnchor": "start", "titleFontSize": 13, "titlePadding": -2, "titleBaseline": "alphabetic", "domain": true, "ticks": true, "domainColor": "black", "tickColor": "black", "domainWidth": 1, "tickWidth": 1, "domainOpacity": 1, "tickOpacity": 1,
        "encode": {"ticks": {"y2": {"condition": {"test": "(datum.value-1920)%30==0", "value": -8}, "value": -4}}}}},
    "y": {"datum": 2, "type": "quantitative", "scale": {"domain": [-12,2], "nice": false, "zero": false},
      "axis": {"orient": "right", "values": [-12,-11.5,-11,-10.5,-10,-9.5,-9,-8.5,-8,-7.5,-7,-6.5,-6,-5.5,-5,-4.5,-4,-3.5,-3,-2.5,-2,-1.5,-1,-0.5,0,0.5,1,1.5,2], "labels": false, "tickSize": 8, "title": null, "domain": true, "ticks": true, "domainColor": "black", "tickColor": "black", "domainWidth": 1, "tickWidth": 1, "domainOpacity": 1, "tickOpacity": 1,
        "encode": {"ticks": {"x2": {"condition": {"test": "datum.value%2==0", "value": 8}, "value": 4}}}}},
    "y2": {"datum": -12}
   }}
 ],
 "resolve": {"axis": {"x": "independent", "y": "independent"}}
}
]
}
